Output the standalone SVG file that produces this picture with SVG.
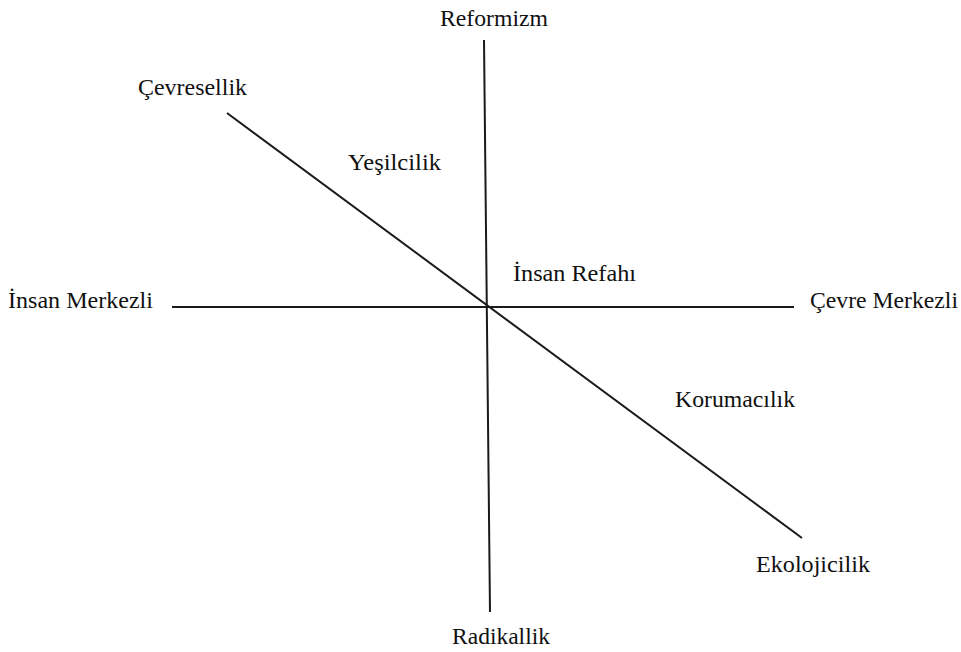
<svg xmlns="http://www.w3.org/2000/svg" width="961" height="652" viewBox="0 0 961 652">
<style>
.t{font-family:"Liberation Serif","Times New Roman",serif;font-size:23px;fill:#111}
.l{stroke:#1a1a1a;stroke-width:2;fill:none}
</style>
<rect width="961" height="652" fill="#fff"/>
<g id="connectors">
<line class="l" x1="484" y1="40" x2="490" y2="612"/>
<line class="l" x1="172" y1="307" x2="794" y2="307"/>
<line class="l" x1="227" y1="113" x2="802" y2="538"/>
</g>
<g id="reformizm"><text class="t" x="440" y="26" textLength="108" lengthAdjust="spacingAndGlyphs">Reformizm</text></g>
<g id="cevresellik"><text class="t" x="138" y="95" textLength="109" lengthAdjust="spacingAndGlyphs">Çevresellik</text></g>
<g id="insan-merkezli"><text class="t" x="8" y="308" textLength="145" lengthAdjust="spacingAndGlyphs">İnsan Merkezli</text></g>
<g id="cevre-merkezli"><text class="t" x="810" y="308" textLength="148" lengthAdjust="spacingAndGlyphs">Çevre Merkezli</text></g>
<g id="insan-refahi"><text class="t" x="513" y="281" textLength="123" lengthAdjust="spacingAndGlyphs">İnsan Refahı</text></g>
<g id="yesilcilik"><text class="t" x="348" y="170" textLength="93" lengthAdjust="spacingAndGlyphs">Yeşilcilik</text></g>
<g id="korumacilik"><text class="t" x="675" y="407" textLength="120" lengthAdjust="spacingAndGlyphs">Korumacılık</text></g>
<g id="ekolojicilik"><text class="t" x="756" y="572" textLength="114" lengthAdjust="spacingAndGlyphs">Ekolojicilik</text></g>
<g id="radikallik"><text class="t" x="452" y="644" textLength="98" lengthAdjust="spacingAndGlyphs">Radikallik</text></g>
</svg>
